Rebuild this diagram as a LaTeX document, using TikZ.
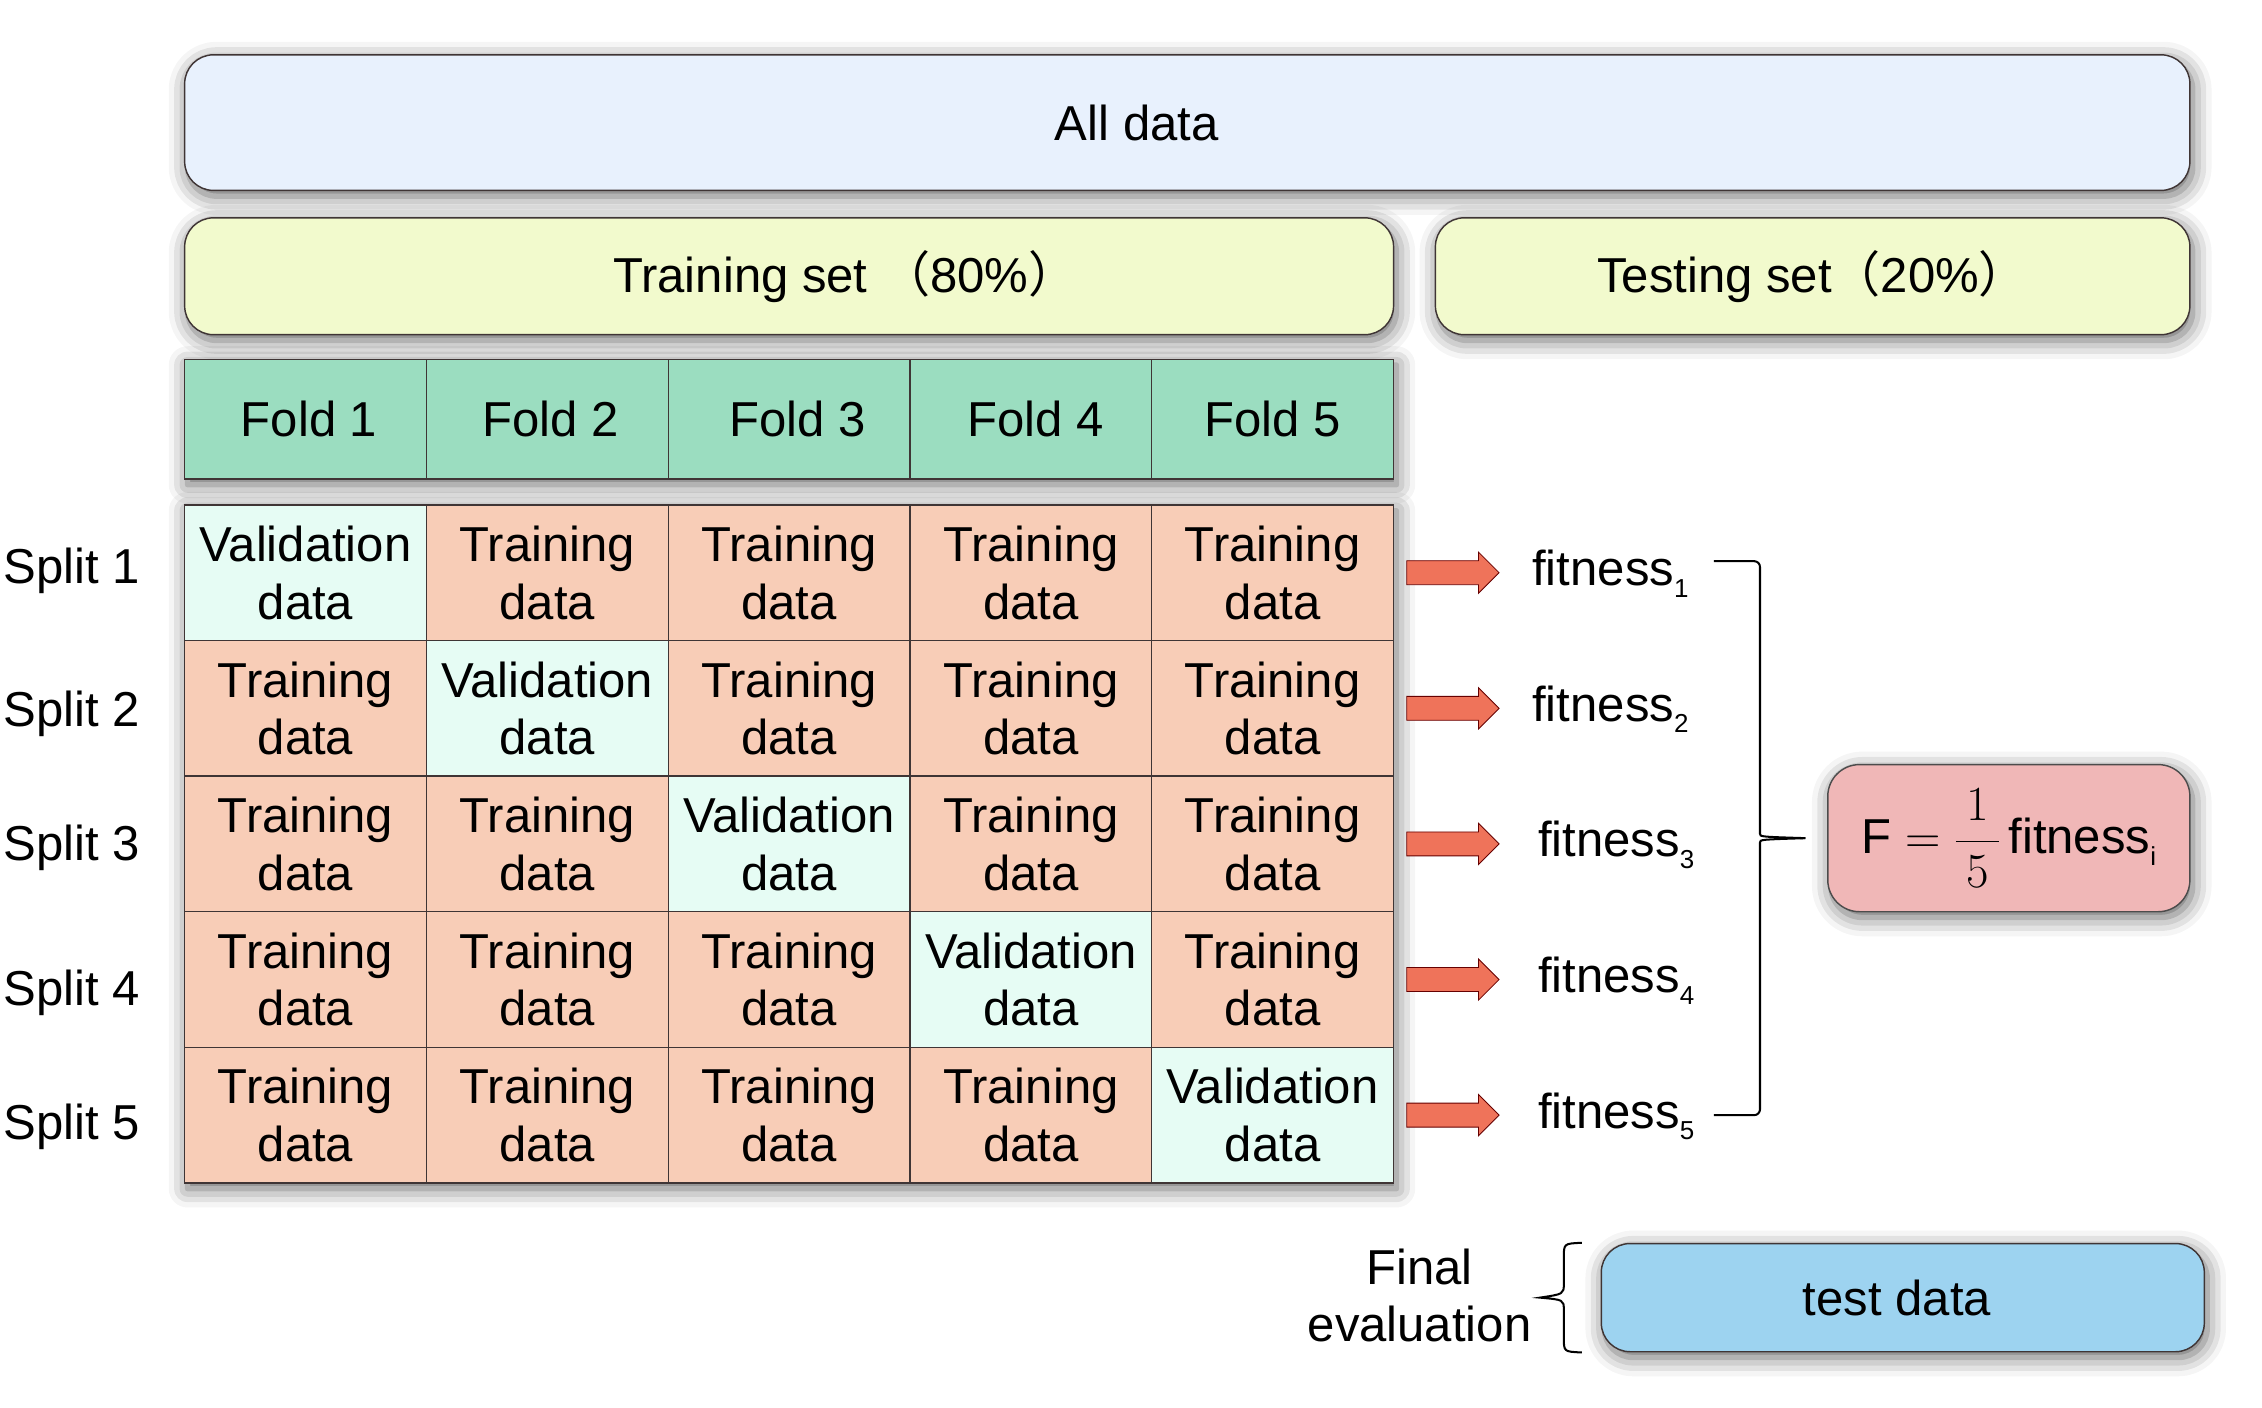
\RequirePackage{fix-cm}
\documentclass[tikz,border=0pt]{standalone}
\usepackage{fontspec}
\usepackage{amsmath}
\setmainfont{Liberation Sans}
\newfontfamily\cjk{Noto Sans CJK SC}
\usetikzlibrary{shapes.arrows,shadows.blur,calc}

\definecolor{alldataC}{HTML}{E8F1FD}
\definecolor{setC}{HTML}{F2FACD}
\definecolor{foldC}{HTML}{9BDDC0}
\definecolor{trainC}{HTML}{F8CDB7}
\definecolor{validC}{HTML}{E6FCF4}
\definecolor{arrowC}{HTML}{EF735A}
\definecolor{fC}{HTML}{F0B7B7}
\definecolor{testC}{HTML}{9DD3F0}
\definecolor{lineC}{HTML}{3F3535}

\newcommand{\fitsub}[1]{\raisebox{-0.45ex}{\fontsize{18}{18}\selectfont #1}}
\newcommand{\wpar}[1]{{\cjk （}#1{\cjk ）}}

\tikzset{
  softshadow/.style={blur shadow={shadow blur radius=13pt, shadow xshift=2pt, shadow yshift=-4pt, shadow opacity=60}},
  bigbox/.style={draw=lineC, line width=1pt, rounded corners=20pt, align=center, inner sep=0pt, softshadow},
  cell/.style={draw=lineC, line width=0.9pt, minimum width=167.6pt, minimum height=94pt, inner sep=0pt, align=center},
  traincell/.style={cell, fill=trainC},
  validcell/.style={cell, fill=validC},
  foldcell/.style={cell, fill=foldC, minimum height=83pt},
  fatarrow/.style={shape=single arrow, draw=red!40!black, line width=0.6pt, fill=arrowC, minimum height=64pt, inner sep=8pt, single arrow head extend=6pt, single arrow head indent=0pt},
  lbl/.style={inner sep=0pt},
  brk/.style={line width=1.4pt, rounded corners=4pt},
}

\begin{document}
\begin{tikzpicture}[x=1pt, y=-1pt, font=\fontsize{34}{40}\selectfont]
    \useasboundingbox (0,0) rectangle (1568,976);

    % top boxes
    \node[bigbox, fill=alldataC, minimum width=1390pt, minimum height=94pt] (alldata) at (823,85) {All data\hspace*{70pt}};
    \node[bigbox, fill=setC, minimum width=838pt, minimum height=81pt] (trainset) at (547,191.5) {\hspace*{78pt}Training set \wpar{80\%}};
    \node[bigbox, fill=setC, minimum width=523pt, minimum height=81pt] (testset) at (1256.5,191.5) {Testing set\wpar{20\%}};

    % shadows of header and grid
    \fill[white, softshadow] (128,249) rectangle (966,332);
    \fill[white, softshadow] (128,350) rectangle (966,820);

    % folds
    \foreach \c/\dx in {1/5,2/4,3/12,4/6,5/0}
        \node[foldcell] (fold\c) at ({128+167.6*(\c-0.5)},290.5) {\hspace*{\dx pt}Fold \c};

    % splits
    \foreach \r/\sy/\fx in {1/396/1062,2/495/1062,3/588/1066,4/688/1066,5/781/1066} {
        \foreach \c in {1,...,5} {
            \ifnum\r=\c
                \node[validcell] (cell\r\c) at ({128+167.6*(\c-0.5)},{350+94*(\r-0.5)}) {Validation\\data};
            \else
                \node[traincell] (cell\r\c) at ({128+167.6*(\c-0.5)},{350+94*(\r-0.5)}) {Training\\data};
            \fi
        }
        \node[lbl] (split\r) at (50,\sy) {Split \r};
        \node[fatarrow] (arr\r) at (1003,{350+94*(\r-0.5)}) {};
        \node[lbl, anchor=base west] (fit\r) at (\fx,{350+94*(\r-0.5)+9}) {fitness\fitsub{\r}};
    }

    % average
    \node[bigbox, fill=fC, draw=gray!60!black, minimum width=251pt, minimum height=102pt, rounded corners=22pt] (Fbox) at (1392.5,581) {F\;$=\dfrac{\hspace{7pt}1\hspace{7pt}}{5}$\,fitness\fitsub{i}};

    \coordinate (btop) at (1188,389);
    \coordinate (bbot) at (1188,773);
    \coordinate (btip) at ($(Fbox.west)+(-15,0)$);
    \draw[brk] (btop) -- (1220,389) -- (1220,574) .. controls (1220,580) .. (btip);
    \draw[brk] (bbot) -- (1220,773) -- (1220,588) .. controls (1220,582) .. (btip);

    % final evaluation
    \node[bigbox, fill=testC, minimum width=418pt, minimum height=75pt] (testdata) at (1319,899.5) {test data\hspace*{8pt}};
    \node[lbl, align=center] (finaleval) at (984,898) {Final\\evaluation};
    \coordinate (etop) at ($(testdata.north west)+(-13,0)$);
    \coordinate (ebot) at ($(testdata.south west)+(-13,0)$);
    \coordinate (etip) at ($(testdata.west)+(-42,0)$);
    \draw[line width=1.4pt] (etop) .. controls (1084,862) .. (1084,872) -- (1084,890)
        .. controls (1084,897) .. (etip) .. controls (1084,901) .. (1084,908) -- (1084,927)
        .. controls (1084,937) .. (ebot);

\end{tikzpicture}
\end{document}
